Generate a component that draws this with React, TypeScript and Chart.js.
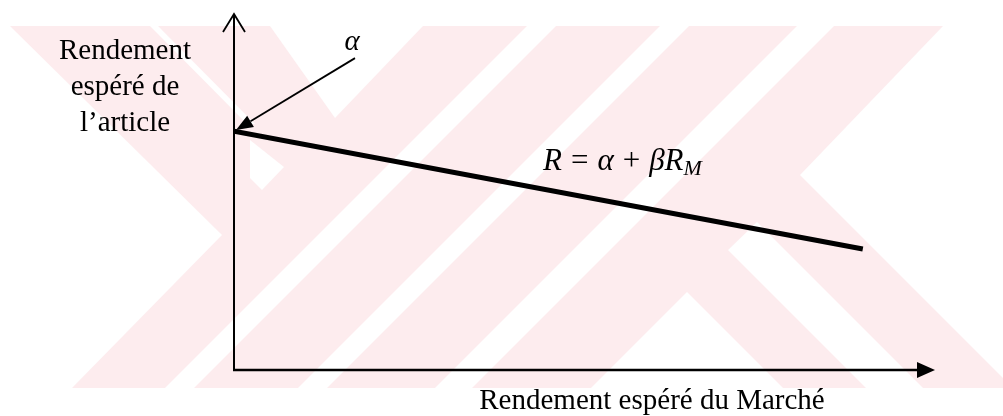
import { useEffect, useRef } from "react";
import { Chart, registerables } from "chart.js";

Chart.register(...registerables);

// ---- data ----
const marketReturn = [0, 89.7];
const articleReturn = [67.1, 34.0];
const yAxisTitleLines = ["Rendement", "espéré de", "l’article"];
const xAxisTitle = "Rendement espéré du Marché";
const alphaLabel = "α";
const equationParts = [
  { t: "R", italic: true, sub: false },
  { t: "=", italic: false, sub: false },
  { t: "α", italic: true, sub: false },
  { t: "+", italic: false, sub: false },
  { t: "βR", italic: true, sub: false },
  { t: "M", italic: true, sub: true },
];

// ---- styles ----
const FONT = '"Liberation Serif", "Times New Roman", serif';
const PINK = "#fdecee";
const whitePolys: number[][][] = [
  [[0, 26], [10, 26], [222, 235], [72, 388], [0, 388]],
  [[150, 26], [158, 26], [255, 124], [247, 124]],
  [[250, 140], [284, 167], [262, 190], [250, 178]],
  [[270, 26], [423, 26], [335, 118]],
  [[527, 26], [556, 26], [194, 388], [165, 388]],
  [[660, 26], [689, 26], [327, 388], [298, 388]],
  [[797, 26], [834, 26], [472, 388], [435, 388]],
  [[943, 26], [1003, 26], [1003, 378], [800, 175]],
  [[687, 292], [783, 388], [591, 388]],
  [[728, 250], [757, 222], [923, 388], [866, 388]],
];

const diagramPlugin = {
  id: "diagram",
  beforeDraw(chart: any) {
    const ctx = chart.ctx as CanvasRenderingContext2D;
    ctx.save();
    ctx.fillStyle = "#ffffff";
    ctx.fillRect(0, 0, chart.width, chart.height);
    ctx.fillStyle = PINK;
    ctx.fillRect(0, 26, chart.width, 362);
    ctx.fillStyle = "#ffffff";
    for (const poly of whitePolys) {
      ctx.beginPath();
      poly.forEach(([x, y], i) => (i ? ctx.lineTo(x, y) : ctx.moveTo(x, y)));
      ctx.closePath();
      ctx.fill();
    }
    ctx.restore();
  },
  beforeDatasetsDraw(chart: any) {
    const ctx = chart.ctx as CanvasRenderingContext2D;
    const xs = chart.scales.x;
    const ys = chart.scales.y;
    const ca = chart.chartArea;
    const x0 = xs.getPixelForValue(0);
    const y0 = ys.getPixelForValue(0);
    ctx.save();
    ctx.strokeStyle = "#000";
    ctx.fillStyle = "#000";
    ctx.lineWidth = 2;
    // y axis with open arrow
    ctx.beginPath();
    ctx.moveTo(x0, y0 + 1);
    ctx.lineTo(x0, ca.top);
    ctx.stroke();
    ctx.lineWidth = 1.8;
    ctx.beginPath();
    ctx.moveTo(x0 - 11, ca.top + 18);
    ctx.lineTo(x0, ca.top);
    ctx.lineTo(x0 + 11, ca.top + 18);
    ctx.stroke();
    // x axis with filled arrow
    ctx.lineWidth = 2.5;
    ctx.beginPath();
    ctx.moveTo(x0 - 1, y0);
    ctx.lineTo(ca.right - 14, y0);
    ctx.stroke();
    ctx.beginPath();
    ctx.moveTo(ca.right, y0);
    ctx.lineTo(ca.right - 18, y0 - 8);
    ctx.lineTo(ca.right - 18, y0 + 8);
    ctx.closePath();
    ctx.fill();
    ctx.restore();
  },
  afterDatasetsDraw(chart: any) {
    const ctx = chart.ctx as CanvasRenderingContext2D;
    const xs = chart.scales.x;
    const ys = chart.scales.y;
    const ca = chart.chartArea;
    ctx.save();
    ctx.fillStyle = "#000";
    ctx.strokeStyle = "#000";
    // alpha arrow
    const tipX = xs.getPixelForValue(marketReturn[0]) + 2;
    const tipY = ys.getPixelForValue(articleReturn[0]) - 1;
    const fromX = tipX + 119;
    const fromY = tipY - 72;
    const ang = Math.atan2(tipY - fromY, tipX - fromX);
    const headLen = 17;
    const headHalf = 6.5;
    const bx = tipX - headLen * Math.cos(ang);
    const by = tipY - headLen * Math.sin(ang);
    ctx.lineWidth = 1.8;
    ctx.beginPath();
    ctx.moveTo(fromX, fromY);
    ctx.lineTo(bx, by);
    ctx.stroke();
    ctx.beginPath();
    ctx.moveTo(tipX, tipY);
    ctx.lineTo(bx + headHalf * Math.sin(ang), by - headHalf * Math.cos(ang));
    ctx.lineTo(bx - headHalf * Math.sin(ang), by + headHalf * Math.cos(ang));
    ctx.closePath();
    ctx.fill();

    // alpha label
    ctx.font = `italic 29px ${FONT}`;
    ctx.textAlign = "center";
    ctx.textBaseline = "alphabetic";
    ctx.fillText(alphaLabel, fromX - 3, fromY - 8);

    // y axis title
    ctx.font = `29px ${FONT}`;
    ctx.textAlign = "center";
    yAxisTitleLines.forEach((line, i) => {
      ctx.fillText(line, ca.left - 109, 59 + i * 36);
    });

    // x axis title
    ctx.fillText(xAxisTitle, 652, 409);

    // equation
    ctx.textAlign = "left";
    let ex = 543;
    const eb = 170;
    equationParts.forEach((p, i) => {
      const size = p.sub ? 22 : 31;
      ctx.font = `${p.italic ? "italic " : ""}${size}px ${FONT}`;
      ctx.fillText(p.t, ex, p.sub ? eb + 5 : eb);
      ex += ctx.measureText(p.t).width + (i < 4 ? 9 : 0);
    });
    ctx.restore();
  },
};

export default function App() {
  const ref = useRef<HTMLCanvasElement>(null);
  useEffect(() => {
    const chart = new Chart(ref.current as HTMLCanvasElement, {
      type: "line",
      data: {
        datasets: [
          {
            data: marketReturn.map((x, i) => ({ x, y: articleReturn[i] })),
            borderColor: "#000",
            borderWidth: 5,
            pointRadius: 0,
            borderCapStyle: "butt",
            tension: 0,
          },
        ],
      },
      options: {
        animation: false,
        responsive: false,
        events: [],
        layout: { padding: { left: 234, right: 68, top: 14, bottom: 46 } },
        scales: {
          x: { type: "linear", min: 0, max: 100, display: false },
          y: { type: "linear", min: 0, max: 100, display: false },
        },
        plugins: { legend: { display: false }, tooltip: { enabled: false } },
      },
      plugins: [diagramPlugin],
    } as any);
    return () => chart.destroy();
  }, []);
  return (
    <div style={{ position: "fixed", left: 0, top: 0, width: 1003, height: 416, background: "#fff" }}>
      <canvas ref={ref} width={1003} height={416} style={{ display: "block" }} />
    </div>
  );
}
